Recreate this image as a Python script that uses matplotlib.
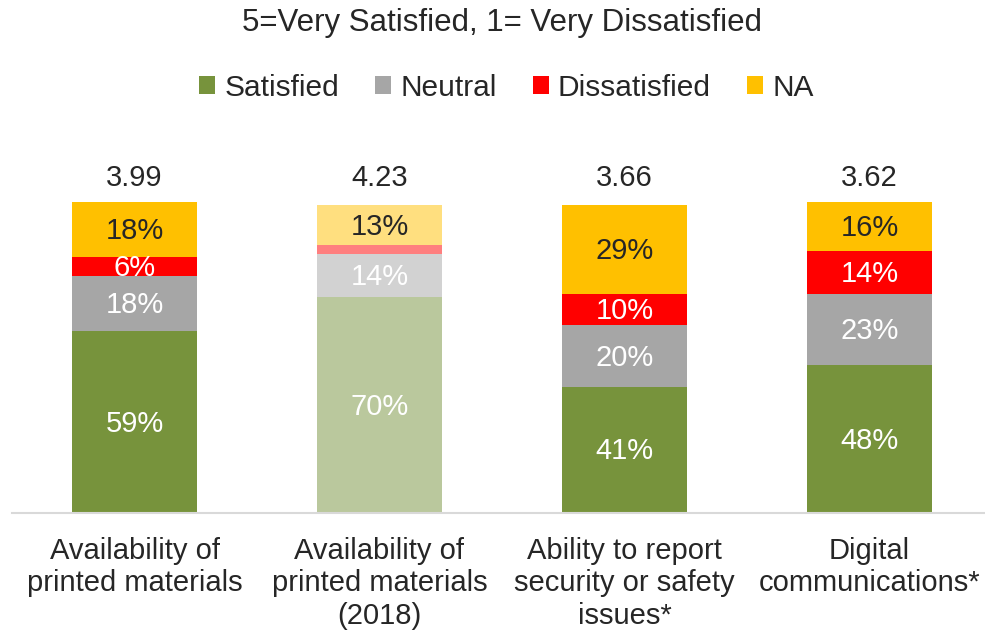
import numpy as np
import matplotlib.pyplot as plt

plt.rcParams['font.family'] = ['Liberation Sans', 'DejaVu Sans']

# --- data ---
categories = ["Availability of\nprinted materials",
              "Availability of\nprinted materials\n(2018)",
              "Ability to report\nsecurity or safety\nissues*",
              "Digital\ncommunications*"]
series = ["Satisfied", "Neutral", "Dissatisfied", "NA"]
satisfied = [59, 70, 41, 48]
neutral = [18, 14, 20, 23]
dissatisfied = [6, 3, 10, 14]
na = [18, 13, 29, 16]
averages = ["3.99", "4.23", "3.66", "3.62"]
faded = [False, True, False, False]

colors = ["#77933C", "#A6A6A6", "#FF0000", "#FFC000"]
label_colors = ["white", "white", "white", "#262626"]
show_label = [[True, True, True, True],
              [True, True, False, True],
              [True, True, True, True],
              [True, True, True, True]]
text_col = "#262626"
fs = 21

fig = plt.figure(figsize=(9.85, 6.32), dpi=100)
ax = fig.add_axes([12 / 985, 119 / 632, 980 / 985, 311 / 632])

x = np.arange(len(categories))
values = [satisfied, neutral, dissatisfied, na]
bottom = np.zeros(len(categories))
for s, (name, vals) in enumerate(zip(series, values)):
    for i in range(len(categories)):
        alpha = 0.5 if faded[i] else 1.0
        ax.bar(x[i], vals[i], bottom=bottom[i], width=0.51,
               color=colors[s], alpha=alpha, linewidth=0,
               label=name if i == 0 else None)
        if show_label[i][s]:
            ax.text(x[i], bottom[i] + vals[i] / 2 - 0.5, f"{vals[i]}%",
                    ha="center", va="center", fontsize=fs,
                    color=label_colors[s])
    bottom += np.array(vals)

# averages sit on one line above the bars
for i in range(len(categories)):
    ax.annotate(averages[i], xy=(x[i], 101), xytext=(0, 17),
                textcoords="offset points", ha="center", va="center",
                fontsize=fs, color=text_col, annotation_clip=False)

ax.set_xlim(-0.5, 3.5)
ax.set_ylim(0, 101)
ax.set_yticks([])
ax.set_xticks(x)
ax.set_xticklabels(categories, fontsize=fs, color=text_col, linespacing=1.22)
ax.tick_params(axis="x", length=0, pad=17)
for sp in ["top", "left", "right"]:
    ax.spines[sp].set_visible(False)
ax.spines["bottom"].set_color("#D9D9D9")
ax.spines["bottom"].set_linewidth(1.5)

fig.text(0.51, 1 - 23 / 632, "5=Very Satisfied, 1= Very Dissatisfied",
         ha="center", va="center", fontsize=22.5, color=text_col)
leg = fig.legend(loc="center", bbox_to_anchor=(0.514, 1 - 88 / 632), ncol=4,
                 frameon=False, fontsize=21.5, handlelength=0.55,
                 handleheight=0.55, handletextpad=0.3, columnspacing=1.2)
for t in leg.get_texts():
    t.set_color(text_col)

fig.savefig("out.png", dpi=100)
